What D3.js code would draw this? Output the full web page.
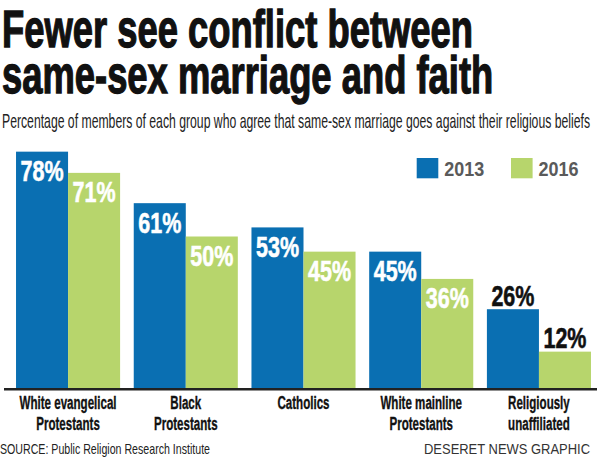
<!DOCTYPE html>
<html>
<head>
<meta charset="utf-8">
<script src="https://cdn.jsdelivr.net/npm/d3@7/dist/d3.min.js"></script>
<style>
  html, body { margin: 0; padding: 0; background: #fff; }
  svg { display: block; }
</style>
</head>
<body>
<svg id="chart" width="600" height="457"></svg>
<script>
// ---- Data ----
const categories = [
  ["White evangelical", "Protestants"],
  ["Black", "Protestants"],
  ["Catholics"],
  ["White mainline", "Protestants"],
  ["Religiously", "unaffiliated"]
];
const seriesNames = ["2013", "2016"];
const values2013 = [78, 61, 53, 45, 26];
const values2016 = [71, 50, 45, 36, 12];
const titleLines = ["Fewer see conflict between", "same-sex marriage and faith"];
const subtitle = "Percentage of members of each group who agree that same-sex marriage goes against their religious beliefs";
const sourceText = "SOURCE: Public Religion Research Institute";
const creditText = "DESERET NEWS GRAPHIC";

// ---- Setup ----
const svg = d3.select("#chart");
const COND = "'Liberation Sans Narrow', 'Liberation Sans', Arial, sans-serif";
const REG = "'Liberation Sans', Arial, sans-serif";
const colors = { "2013": "#0a6fb2", "2016": "#b7d56c" };

function factorFor(str, size, weight, family, target) {
  const t = svg.append("text").attr("font-size", size).attr("font-weight", weight)
    .attr("font-family", family).text(str);
  const w = t.node().getComputedTextLength();
  t.remove();
  return target / w;
}
function condense(sel, f) {
  sel.each(function () {
    const w = this.getComputedTextLength();
    this.setAttribute("textLength", w * f);
    this.setAttribute("lengthAdjust", "spacingAndGlyphs");
  });
}

// ---- Title ----
const fTitle = factorFor(titleLines[0], 51, "bold", COND, 471);
const title = svg.append("g").selectAll("text").data(titleLines).join("text")
  .attr("x", 2).attr("y", (d, i) => i === 0 ? 46.5 : 93)
  .attr("font-family", COND).attr("font-weight", "bold").attr("font-size", 51)
  .attr("fill", "#111").attr("stroke", "#111").attr("stroke-width", 1.3)
  .text(d => d);
condense(title, fTitle);

// ---- Subtitle ----
const fSub = factorFor(subtitle, 21, "normal", COND, 588);
const sub = svg.append("text").attr("x", 2).attr("y", 128)
  .attr("font-family", COND).attr("font-size", 21).attr("fill", "#222")
  .text(subtitle);
condense(sub, fSub);

// ---- Scales ----
const x0 = d3.scaleBand().domain(d3.range(categories.length))
  .range([9.2, 597.8]).paddingInner(0.116).paddingOuter(0.058);
const x1 = d3.scaleBand().domain(seriesNames).range([0, x0.bandwidth()]);
const y = d3.scaleLinear().domain([0, 100]).range([388, 85]);

const rows = categories.map((c, i) => ({
  i, cat: c,
  vals: [{ s: "2013", v: values2013[i] }, { s: "2016", v: values2016[i] }]
}));

// ---- Bars ----
const groups = svg.append("g").selectAll("g").data(rows).join("g")
  .attr("transform", d => `translate(${x0(d.i)},0)`);

groups.selectAll("rect").data(d => d.vals).join("rect")
  .attr("x", d => x1(d.s)).attr("width", x1.bandwidth())
  .attr("y", d => y(d.v)).attr("height", d => y(0) - y(d.v))
  .attr("fill", d => colors[d.s]);

// ---- Value labels ----
const fVal = factorFor("78%", 30, "bold", COND, 43);
const labelInside = v => (y(0) - y(v)) > 95;
const vlabels = groups.selectAll("text.val").data(d => d.vals).join("text")
  .attr("class", "val")
  .attr("x", d => x1(d.s) + x1.bandwidth() / 2)
  .attr("y", d => labelInside(d.v) ? y(d.v) + 29.5 : y(d.v) - 3.5)
  .attr("text-anchor", "middle")
  .attr("font-family", COND).attr("font-weight", "bold").attr("font-size", 30)
  .attr("fill", d => labelInside(d.v) ? "#fff" : "#111")
  .attr("stroke", d => labelInside(d.v) ? "#fff" : "#111").attr("stroke-width", 0.6)
  .text(d => d.v + "%");
condense(vlabels, fVal);

// ---- Axis line ----
const axis = d3.axisBottom(x0).tickSize(0).tickFormat("");
const axisG = svg.append("g").attr("transform", `translate(0,${y(0) + 1.3})`).call(axis);
axisG.select(".domain").attr("d", "M4,0H597").attr("stroke", "#222").attr("stroke-width", 2.6);

// ---- Category labels ----
const fCat = factorFor("White evangelical", 17.5, "bold", COND, 97);
const catText = svg.append("g").selectAll("text").data(rows).join("text")
  .attr("x", d => x0(d.i) + x0.bandwidth() / 2)
  .attr("text-anchor", "middle")
  .attr("font-family", COND).attr("font-weight", "bold").attr("font-size", 17.5)
  .attr("fill", "#111").attr("stroke", "#111").attr("stroke-width", 0.35);
const tspans = catText.selectAll("tspan").data(d => d.cat.map(t => ({ t, x: x0(d.i) + x0.bandwidth() / 2 })))
  .join("tspan")
  .attr("x", d => d.x)
  .attr("y", (d, i) => i === 0 ? 409.3 : 430)
  .text(d => d.t);
condense(tspans, fCat);

// ---- Legend ----
const legendX = { "2013": 416.7, "2016": 511 };
const fLeg = factorFor("2013", 21, "bold", COND, 40);
const leg = svg.append("g").selectAll("g").data(seriesNames).join("g")
  .attr("transform", d => `translate(${legendX[d]},158)`);
leg.append("rect").attr("width", 21.6).attr("height", 20.3).attr("fill", d => colors[d]);
const legText = leg.append("text").attr("x", 27.5).attr("y", 17.7)
  .attr("font-family", COND).attr("font-weight", "bold").attr("font-size", 21)
  .attr("fill", "#5a5a5a").text(d => d);
condense(legText, fLeg);

// ---- Footer ----
const fSrc = factorFor(sourceText, 15, "normal", COND, 210);
const src = svg.append("text").attr("x", 0).attr("y", 454)
  .attr("font-family", COND).attr("font-size", 15).attr("fill", "#222").text(sourceText);
condense(src, fSrc);
const fCred = factorFor(creditText, 15, "normal", REG, 166);
const cred = svg.append("text").attr("x", 424).attr("y", 454)
  .attr("font-family", REG).attr("font-size", 15).attr("fill", "#333").text(creditText);
condense(cred, fCred);
</script>
</body>
</html>
